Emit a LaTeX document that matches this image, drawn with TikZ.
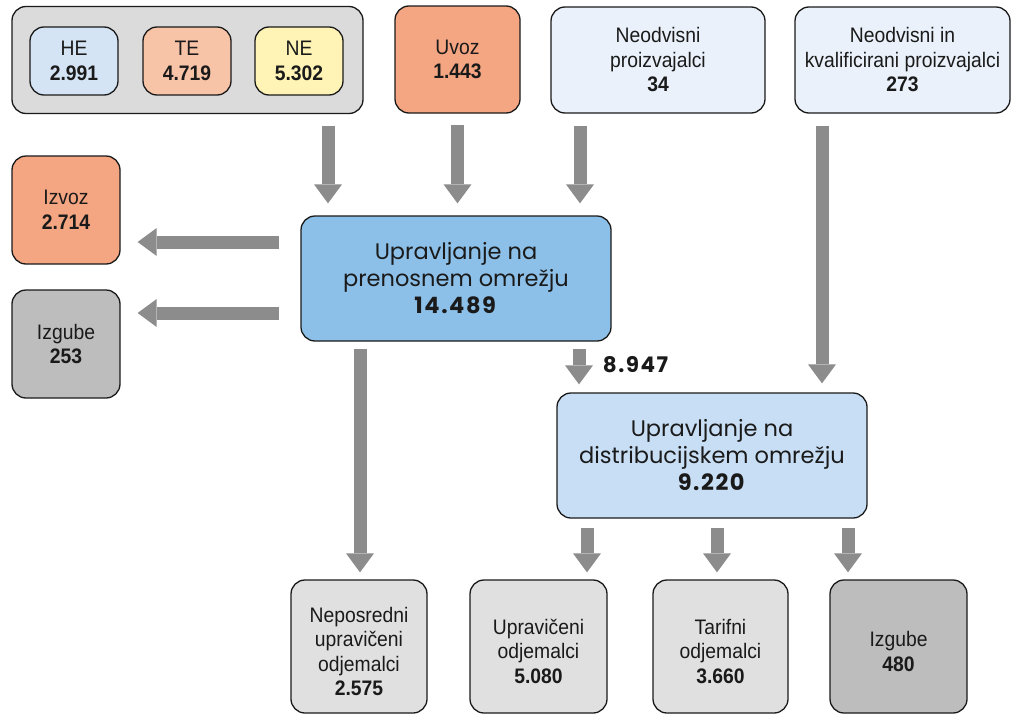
\documentclass[tikz,border=0pt]{standalone}
\usepackage{fontspec}
\setmainfont{Liberation Sans}[FakeStretch=0.92]
\newfontfamily\headfont{Poppins}[BoldFeatures={LetterSpace=7}]
\usetikzlibrary{arrows.meta}

\definecolor{ink}{HTML}{1A1A1A}
\definecolor{groupgray}{HTML}{DBDBDB}
\definecolor{hefill}{HTML}{D5E4F5}
\definecolor{tefill}{HTML}{F8C4A8}
\definecolor{nefill}{HTML}{FFF4B5}
\definecolor{tradefill}{HTML}{F4A582}
\definecolor{indepfill}{HTML}{EAF1FA}
\definecolor{transfill}{HTML}{8CC0E8}
\definecolor{distfill}{HTML}{C8DEF5}
\definecolor{lossfill}{HTML}{BDBDBD}
\definecolor{userfill}{HTML}{E0E0E0}
\definecolor{flowgray}{HTML}{8C8C8C}

\tikzset{
  box/.style={draw=ink, line width=1.3pt, rounded corners=14pt, inner sep=0pt,
    align=center, text=ink, font=\fontsize{21}{24.5}\selectfont},
  bigbox/.style={box, font=\headfont\fontsize{22.5}{27}\selectfont},
  size/.style 2 args={minimum width=#1pt, minimum height=#2pt},
  flow/.style={draw=flowgray, line width=13pt,
    -{Triangle[length=19pt,width=28pt,line width=0pt]}},
}

\begin{document}
\begin{tikzpicture}[x=1pt,y=-1pt]
\useasboundingbox (0,0) rectangle (1018,715);

% sources
\node[box, fill=groupgray, size={351}{107}] (grp) at (187.5,60) {};
\node[box, fill=hefill, size={88}{68}] (he) at (74,61) {HE\\\textbf{2.991}};
\node[box, fill=tefill, size={88}{68}] (te) at (187,61) {TE\\\textbf{4.719}};
\node[box, fill=nefill, size={88}{68}] (ne) at (299,61) {NE\\\textbf{5.302}};
\node[box, fill=tradefill, size={125}{107}] (uvoz) at (457.5,59.5) {Uvoz\\\textbf{1.443}};
\node[box, fill=indepfill, size={214}{106}] (np) at (658,60)
  {Neodvisni\\proizvajalci\\\textbf{34}};
\node[box, fill=indepfill, size={215}{106}] (nkp) at (902.5,60)
  {Neodvisni in\\kvalificirani proizvajalci\\\textbf{273}};

% left outputs
\node[box, fill=tradefill, size={108}{108}] (izvoz) at (66,210) {Izvoz\\\textbf{2.714}};
\node[box, fill=lossfill, size={108}{108}] (izg1) at (66,344) {Izgube\\\textbf{253}};

% network operators
\node[bigbox, fill=transfill, size={310}{125}] (prenos) at (456,278.5)
  {Upravljanje na\\prenosnem omrežju\\\textbf{14.489}};
\node[bigbox, fill=distfill, size={310}{125}] (distr) at (712,455.5)
  {Upravljanje na\\distribucijskem omrežju\\\textbf{9.220}};

% consumers
\node[box, fill=userfill, size={136}{133}] (nuo) at (359,646.5)
  {\rule{0pt}{25pt}Neposredni\\upravičeni\\odjemalci\\\textbf{2.575}};
\node[box, fill=userfill, size={137}{133}] (uo) at (538.5,646.5)
  {\rule{0pt}{25pt}Upravičeni\\odjemalci\\\textbf{5.080}};
\node[box, fill=userfill, size={135}{133}] (to) at (720.5,646.5)
  {\rule{0pt}{25pt}Tarifni\\odjemalci\\\textbf{3.660}};
\node[box, fill=lossfill, size={137}{133}] (izg2) at (898.5,646.5)
  {\rule{0pt}{25pt}Izgube\\\textbf{480}};

% flow columns and rows
\coordinate (c1) at (328,0);
\coordinate (c3) at (580,0);
\coordinate (c4) at (822,0);
\coordinate (c5) at (579,0);
\coordinate (c6) at (360,0);
\coordinate (c7) at (587,0);
\coordinate (c8) at (717,0);
\coordinate (c9) at (848,0);
\coordinate (r1) at (0,242);
\coordinate (r2) at (0,313);

% flows into transmission
\draw[flow, shorten <=11.5pt, shorten >=12pt] (grp.south -| c1) -- (prenos.north -| c1);
\draw[flow, shorten <=11.5pt, shorten >=12pt] (uvoz.south) -- (uvoz.south |- prenos.north);
\draw[flow, shorten <=12pt, shorten >=12pt] (np.south -| c3) -- (prenos.north -| c3);
\draw[flow, shorten <=12pt, shorten >=9pt] (nkp.south -| c4) -- (distr.north -| c4);

% flows out of transmission
\draw[flow, shorten <=21pt, shorten >=17pt] (prenos.west |- r1) -- (izvoz.east |- r1);
\draw[flow, shorten <=21pt, shorten >=17pt] (prenos.west |- r2) -- (izg1.east |- r2);
\draw[flow, shorten <=7pt, shorten >=8pt] (prenos.south -| c5) -- (distr.north -| c5)
  node[pos=0.45, right=14pt, text=ink, font=\headfont\bfseries\fontsize{21.5}{26}\selectfont] (lbl) {8.947};
\draw[flow, shorten <=7pt, shorten >=7pt] (prenos.south -| c6) -- (nuo.north -| c6);

% flows out of distribution
\draw[flow, shorten <=9pt, shorten >=7pt] (distr.south -| c7) -- (uo.north -| c7);
\draw[flow, shorten <=9pt, shorten >=7pt] (distr.south -| c8) -- (to.north -| c8);
\draw[flow, shorten <=9pt, shorten >=7pt] (distr.south -| c9) -- (izg2.north -| c9);
\end{tikzpicture}
\end{document}
